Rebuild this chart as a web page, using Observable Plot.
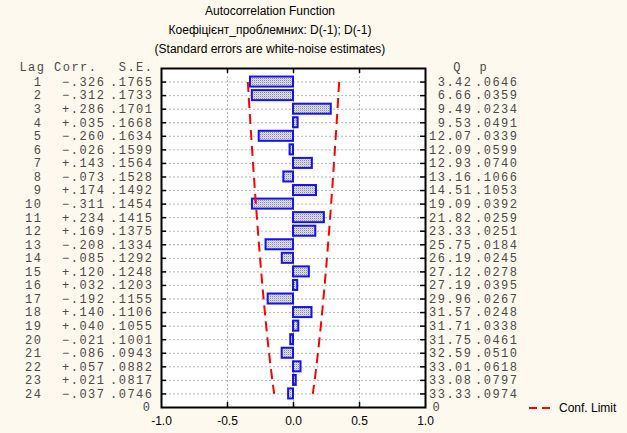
<!DOCTYPE html>
<html>
<head>
<meta charset="utf-8">
<script src="https://cdn.jsdelivr.net/npm/d3@7"></script>
<script src="https://cdn.jsdelivr.net/npm/@observablehq/plot@0.6"></script>
<style>
  body { margin:0; background:#fdf9ee; width:627px; height:433px; overflow:hidden; position:relative; font-family:"Liberation Sans", Arial, sans-serif; }
  #title { position:absolute; left:0; top:2px; width:540px; text-align:center; font-size:12px; line-height:19px; color:#000; }
  #chart { position:absolute; left:0; top:60px; }
  #legend { position:absolute; left:529px; top:401px; font-size:12px; color:#000; display:flex; align-items:center; }
  #legend svg { margin-right:8px; }
</style>
</head>
<body>
<svg width="0" height="0" style="position:absolute">
  <defs>
    <pattern id="dots" width="2" height="2" patternUnits="userSpaceOnUse">
      <rect width="2" height="2" fill="#e2e2ee"></rect>
      <rect x="0" y="0" width="1" height="1" fill="#8a8aa6"></rect>
      <rect x="1" y="1" width="1" height="1" fill="#c4c4d8"></rect>
    </pattern>
  </defs>
</svg>
<div id="title">
  <div>Autocorrelation Function</div>
  <div>Коефіцієнт_проблемних: D(-1); D(-1)</div>
  <div>(Standard errors are white-noise estimates)</div>
</div>
<div id="chart"></div>
<div id="legend"><svg width="22" height="4"><line x1="0" y1="2" x2="22" y2="2" stroke="#ff0000" stroke-width="2" stroke-dasharray="8,5"></line></svg><span>Conf. Limit</span></div>
<script>
const lags = [1,2,3,4,5,6,7,8,9,10,11,12,13,14,15,16,17,18,19,20,21,22,23,24];
const corr = [-0.326,-0.312,0.286,0.035,-0.260,-0.026,0.143,-0.073,0.174,-0.311,0.234,0.169,-0.208,-0.085,0.120,0.032,-0.192,0.140,0.040,-0.021,-0.086,0.057,0.021,-0.037];
const se = [0.1765,0.1733,0.1701,0.1668,0.1634,0.1599,0.1564,0.1528,0.1492,0.1454,0.1415,0.1375,0.1334,0.1292,0.1248,0.1203,0.1155,0.1106,0.1055,0.1001,0.0943,0.0882,0.0817,0.0746];
const qStat = ["3.42","6.66","9.49","9.53","12.07","12.09","12.93","13.16","14.51","19.09","21.82","23.33","25.75","26.19","27.12","27.19","29.96","31.57","31.71","31.75","32.59","33.01","33.08","33.33"];
const pVal = [".0646",".0359",".0234",".0491",".0339",".0599",".0740",".1066",".1053",".0392",".0259",".0251",".0184",".0245",".0278",".0395",".0267",".0248",".0338",".0461",".0510",".0618",".0797",".0974"];
const xTicks = [-1, -0.5, 0, 0.5, 1];
const gridX = [-0.5, 0, 0.5];
const zScore = 1.96;

const fmtCorr = v => (v < 0 ? "\u2212" : "+") + Math.abs(v).toFixed(3).slice(1);
const fmtSE = v => v.toFixed(4).slice(1);

const rows = lags.map((lag, i) => ({
  lag, corr: corr[i], se: se[i],
  lo: -zScore * se[i], hi: zScore * se[i],
  q: qStat[i], p: pVal[i]
}));

const W = 627, H = 373;
const mT = 8, mB = 26, mL = 161, mR = 202;
const innerW = W - mL - mR, innerH = H - mT - mB;
const mono = {fontFamily: "Liberation Mono, Courier New, monospace", fontSize: 12, fill: "#4a4a4a"};
const confStyle = {stroke: "#ff0000", strokeWidth: 2, strokeDasharray: "10,6", strokeLinecap: "butt", strokeLinejoin: "miter", curve: "monotone-y"};

const chart = Plot.plot({
  width: W, height: H,
  marginTop: mT, marginBottom: mB, marginLeft: mL, marginRight: mR,
  style: {background: "transparent", overflow: "visible"},
  x: {domain: [-1, 1]},
  y: {domain: [0, 25], reverse: true, axis: null},
  marks: [
    Plot.frame({fill: "#ffffff", stroke: null}),
    Plot.ruleY(lags, {y: d => d, stroke: "#b4b4b4", strokeDasharray: "2,2", strokeWidth: 1}),
    Plot.ruleX(gridX, {x: d => d, stroke: "#b4b4b4", strokeDasharray: "2,2", strokeWidth: 1}),
    Plot.rectX(rows, {x1: 0, x2: "corr", y1: d => d.lag - 0.37, y2: d => d.lag + 0.37, fill: "url(#dots)", stroke: "#1414f0", strokeWidth: 2}),
    Plot.line(rows, {x: "lo", y: "lag", ...confStyle}),
    Plot.line(rows, {x: "hi", y: "lag", ...confStyle}),
    Plot.tickY(lags, {y: d => d, insetRight: innerW - 5, stroke: "#000", strokeWidth: 1.5}),
    Plot.tickY(lags, {y: d => d, insetLeft: innerW - 5, stroke: "#000", strokeWidth: 1.5}),
    Plot.tickX(gridX, {x: d => d, insetBottom: innerH - 5, stroke: "#000", strokeWidth: 1.5}),
    Plot.tickX(gridX, {x: d => d, insetTop: innerH - 5, stroke: "#000", strokeWidth: 1.5}),
    Plot.frame({stroke: "#000", strokeWidth: 2}),
    Plot.axisX(xTicks, {anchor: "bottom", tickSize: 0, tickPadding: 9, tickFormat: d => d.toFixed(1), fontSize: 12, fill: "#000", fontFamily: "Liberation Sans, Arial, sans-serif", label: null}),
    // left table
    Plot.text(rows, {y: "lag", text: d => String(d.lag), frameAnchor: "left", dx: -119, textAnchor: "end", ...mono}),
    Plot.text(rows, {y: "lag", text: d => fmtCorr(d.corr), frameAnchor: "left", dx: -56, textAnchor: "end", ...mono}),
    Plot.text(rows, {y: "lag", text: d => fmtSE(d.se), frameAnchor: "left", dx: -8, textAnchor: "end", ...mono}),
    Plot.text(["Lag"], {y: 0, text: d => d, frameAnchor: "left", dx: -116, dy: -1, textAnchor: "end", ...mono}),
    Plot.text(["Corr."], {y: 0, text: d => d, frameAnchor: "left", dx: -64, dy: -1, textAnchor: "end", ...mono}),
    Plot.text(["S.E."], {y: 0, text: d => d, frameAnchor: "left", dx: -8, dy: -1, textAnchor: "end", ...mono}),
    Plot.text(["0"], {y: 25, text: d => d, frameAnchor: "left", dx: -10, textAnchor: "end", ...mono}),
    // right table
    Plot.text(rows, {y: "lag", text: "q", frameAnchor: "right", dx: 47, textAnchor: "end", ...mono}),
    Plot.text(rows, {y: "lag", text: "p", frameAnchor: "right", dx: 93, textAnchor: "end", ...mono}),
    Plot.text(["Q"], {y: 0, text: d => d, frameAnchor: "right", dx: 32, dy: -1, textAnchor: "middle", ...mono}),
    Plot.text(["p"], {y: 0, text: d => d, frameAnchor: "right", dx: 54, dy: -1, textAnchor: "start", ...mono}),
    Plot.text(["0"], {y: 25, text: d => d, frameAnchor: "right", dx: 7, textAnchor: "start", ...mono})
  ]
});
chart.querySelectorAll("text").forEach(t => {
  const ff = (t.getAttribute("font-family") || "") + (t.parentNode ? (t.parentNode.getAttribute("font-family") || "") : "");
  if (ff.includes("Mono")) t.setAttribute("letter-spacing", "1.5");
});
document.getElementById("chart").appendChild(chart);
</script>
</body>
</html>
